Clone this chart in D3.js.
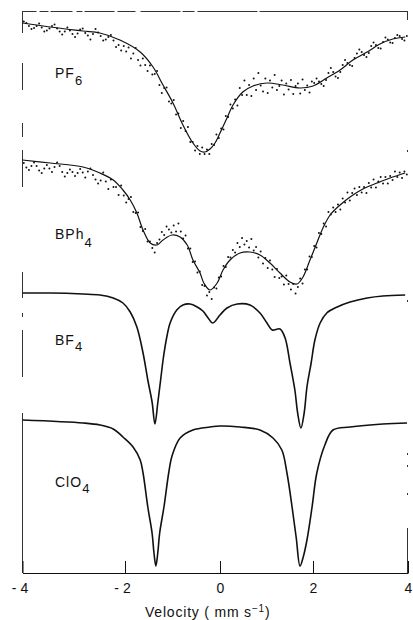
<!DOCTYPE html>
<html>
<head>
<meta charset="utf-8">
<script src="https://cdn.jsdelivr.net/npm/d3@7"></script>
<style>
  html, body { margin: 0; padding: 0; background: #fff; }
  svg { display: block; }
  text { font-family: "Liberation Sans", Arial, sans-serif; fill: #111; }
</style>
</head>
<body>
<svg id="chart" width="413" height="620"></svg>
<script>
// Mössbauer spectra of four salts, stacked with vertical offsets.
// Velocity in mm/s, transmission in arbitrary offset units.

const velocityTicks = [-4, -2, 0, 2, 4];
const saltNames = ["PF", "BPh", "BF", "ClO"];
const saltSubscripts = ["6", "4", "4", "4"];

// Fitted curves: [velocity, transmission]
const pf6Fit = [[-4,110],[-3.46,109.2],[-2.82,108.4],[-2.49,108],[-2.1,106.6],[-1.68,104.2],[-1.41,101.2],[-1.2,97.6],[-0.99,94],[-0.78,89.6],[-0.57,86],[-0.42,84.4],[-0.32,84.2],[-0.21,84.8],[-0.105,86],[0,88],[0.15,91],[0.28,93.6],[0.49,96.2],[0.71,97.4],[1.01,98],[1.35,97.6],[1.72,97],[2,97.4],[2.29,99],[2.57,100.6],[2.84,102.6],[3.14,104.2],[3.41,105.8],[3.68,106.8],[3.94,107.2]];

const bph4Fit = [[-4,82.6],[-3.46,82],[-2.82,81.2],[-2.49,80],[-2.23,78.6],[-2.04,76.6],[-1.89,74.6],[-1.75,72],[-1.62,68.6],[-1.47,66],[-1.33,65.6],[-1.2,66.6],[-1.01,67.6],[-0.84,67.2],[-0.69,65.6],[-0.57,62.6],[-0.42,60],[-0.34,58],[-0.21,56.6],[-0.06,58],[0.065,60.6],[0.215,62.6],[0.43,64],[0.645,64.2],[0.86,63.6],[1.075,62],[1.29,60],[1.505,58.2],[1.656,57.8],[1.785,59.2],[1.935,62.6],[2.08,66],[2.21,69],[2.36,71.6],[2.57,73.6],[2.78,75.2],[3.05,76.8],[3.35,78],[3.62,79],[3.94,80]];

const bf4Fit = [[-4,56],[-3.46,56],[-2.82,55.8],[-2.49,55.6],[-2.23,55],[-2.04,54],[-1.89,52.2],[-1.75,49.2],[-1.62,44],[-1.52,38.6],[-1.43,34.2],[-1.37,29.8],[-1.31,34],[-1.25,38.6],[-1.19,43.2],[-1.12,47.2],[-1.05,50],[-0.91,52.6],[-0.78,53.6],[-0.63,53.8],[-0.48,53.2],[-0.36,52.4],[-0.25,51],[-0.15,50],[0,51.6],[0.15,53],[0.37,53.8],[0.645,53.6],[0.86,52],[1.01,50],[1.12,48.6],[1.29,48.8],[1.4,47],[1.505,42],[1.61,36.6],[1.67,32],[1.74,29],[1.81,32],[1.87,37.2],[1.96,42],[2.04,46.6],[2.15,50],[2.29,52],[2.51,53.2],[2.78,54.2],[3.14,55],[3.47,55.4],[3.94,55.6]];

const clo4Fit = [[-4,30.6],[-2.82,30],[-2.49,29.6],[-2.23,28.8],[-2.04,27.2],[-1.83,25.2],[-1.68,22.6],[-1.62,20],[-1.52,13.2],[-1.43,8],[-1.39,4],[-1.35,1.4],[-1.31,4],[-1.27,8],[-1.18,13.2],[-1.08,20],[-1.01,23.4],[-0.84,27],[-0.57,28.6],[-0.21,29.2],[0,29.4],[0.43,29.2],[0.86,28.6],[1.14,27],[1.33,24.6],[1.44,20],[1.55,13.2],[1.64,7],[1.72,1.4],[1.79,3.2],[1.87,6.6],[1.98,13.2],[2.08,20],[2.25,25.6],[2.42,28.6],[2.78,29.2],[3.47,29.8],[3.98,30]];

// Measured counts on the channel grid (first channel, channel width in mm/s)
const channelStart = -3.975;
const channelWidth = 0.05;

const pf6Counts = [
  110.3,110.0,109.4,108.8,109.0,109.4,109.9,109.1,108.3,108.5,
  108.9,109.4,109.7,108.9,108.3,107.7,108.3,109.1,108.5,107.8,
  107.2,107.9,108.7,108.9,108.0,107.5,106.7,107.8,108.8,108.1,
  107.4,106.5,106.7,107.2,107.6,106.5,105.2,105.6,104.5,105.4,
  104.3,105.1,102.9,103.9,105.0,102.6,101.5,102.9,101.6,100.4,
  101.5,99.7,99.8,100.4,97.6,96.0,97.0,97.1,94.3,93.9,
  94.6,91.7,91.9,89.0,90.4,88.4,89.2,86.2,86.2,84.5,
  85.4,83.8,85.1,83.8,84.7,83.8,85.8,85.6,87.7,87.0,
  88.9,88.7,91.4,91.2,93.7,92.9,94.7,93.5,97.0,95.6,
  98.5,95.6,97.6,95.4,98.9,96.6,100.0,97.5,96.3,98.9,
  96.0,98.5,97.1,99.6,96.6,97.4,98.5,95.7,97.9,96.7,
  98.6,95.8,97.4,97.9,95.9,98.7,96.6,97.5,96.1,98.3,
  98.0,98.9,98.3,97.8,97.4,98.6,100.0,101.0,100.2,99.3,
  99.0,100.2,101.6,102.6,102.0,101.6,101.4,103.0,103.9,104.7,
  104.2,103.6,103.2,104.0,105.4,106.1,105.6,105.0,104.9,106.2,
  107.1,106.7,106.1,106.0,107.0,107.6,107.4,106.8,106.5,107.4
];

const bph4Counts = [
  82.0,81.1,80.6,81.4,82.1,81.4,80.5,80.0,80.9,81.6,
  80.9,80.2,81.2,82.1,81.4,80.2,79.3,80.0,80.7,80.2,
  79.4,80.0,80.8,80.1,79.1,80.3,80.9,79.6,78.7,77.9,
  78.5,80.1,78.3,76.8,78.7,77.2,77.2,75.6,77.5,75.5,
  74.1,74.8,75.2,72.2,72.0,72.1,69.2,68.4,68.8,66.3,
  66.3,65.0,64.1,66.0,66.7,68.2,67.6,69.3,68.7,68.1,
  69.5,68.3,69.9,68.3,66.9,67.5,64.9,64.9,62.2,62.3,
  60.1,60.3,57.6,57.4,55.5,56.2,54.8,57.1,56.9,59.1,
  59.3,61.4,61.2,63.2,63.1,64.6,64.1,66.0,65.2,67.0,
  65.7,66.4,65.1,66.8,64.5,65.2,63.1,64.3,61.9,63.0,
  61.0,62.5,60.7,59.2,60.8,59.0,59.3,57.7,59.5,57.8,
  56.7,57.8,55.9,57.2,58.9,57.9,60.7,60.7,63.3,63.2,
  65.4,65.1,68.0,67.8,69.9,69.3,72.2,71.7,73.1,72.2,
  73.7,72.7,74.9,74.1,76.1,74.5,76.0,76.9,75.6,77.2,
  76.1,77.2,76.0,78.0,77.1,78.7,77.1,78.3,79.2,77.9,
  79.2,77.9,79.4,78.6,80.3,79.2,80.1,79.0,80.3,79.7
];

// ---- drawing ----
const svg = d3.select("#chart");

const x = d3.scaleLinear().domain(velocityTicks).range([22.5, 125, 220, 313, 408]);
const y = d3.scaleLinear().domain([0, 112.4]).range([573, 11]);

const ink = "#111";

// frame (thin, broken as on the original plotter sheet)
const frame = svg.append("g").attr("fill", "none").attr("stroke", "#333").attr("stroke-width", 1);
frame.append("line")
  .attr("x1", x(-4)).attr("x2", x(4)).attr("y1", y(112.4) + 0.5).attr("y2", y(112.4) + 0.5)
  .attr("stroke-dasharray", "14 3 9 2 22 4 6 2 30 3 18 5 40 2 12 3 60 2 150");
frame.append("line")
  .attr("x1", x(-4)).attr("x2", x(-4)).attr("y1", y(112.4)).attr("y2", y(0))
  .attr("stroke-dasharray", "22 30 27 33 14 13 37 85 26 15 4 13 47 36 160");
frame.append("line")
  .attr("x1", x(4) - 0.5).attr("x2", x(4) - 0.5).attr("y1", y(112.4)).attr("y2", y(0))
  .attr("stroke-dasharray", "9 130 2 148 2 151 2 10 2 26 2 33 45");

// velocity axis with inward ticks
const axis = d3.axisBottom(x)
  .tickValues(velocityTicks)
  .tickSizeInner(-12)
  .tickSizeOuter(0)
  .tickPadding(10)
  .tickFormat(d => d < 0 ? "- " + Math.abs(d) : String(d));

const gAxis = svg.append("g")
  .attr("transform", `translate(0,${y(0)})`)
  .call(axis);
gAxis.select(".domain").attr("stroke", ink);
gAxis.selectAll(".tick line").attr("stroke", ink);
gAxis.selectAll(".tick text")
  .attr("font-size", 14)
  .attr("font-family", '"Liberation Sans", Arial, sans-serif')
  .attr("fill", ink)
  .attr("dx", d => d < 0 ? -3 : 0);

// axis title
const title = svg.append("text")
  .attr("x", 145).attr("y", 617)
  .attr("font-size", 14)
  .attr("letter-spacing", 0.8);
title.append("tspan").text("Velocity ( mm s");
title.append("tspan").attr("font-size", 10).attr("dy", -5).text("−1");
title.append("tspan").attr("dy", 5).text(")");

// spectra
const line = d3.line().x(d => x(d[0])).y(d => y(d[1])).curve(d3.curveCatmullRom.alpha(0.5));

const fits = [pf6Fit, bph4Fit, bf4Fit, clo4Fit];
const fitWidths = [1.2, 1.2, 1.6, 1.6];
svg.append("g").selectAll("path")
  .data(fits)
  .join("path")
  .attr("d", line)
  .attr("fill", "none")
  .attr("stroke", ink)
  .attr("stroke-width", (d, i) => fitWidths[i])
  .attr("stroke-linejoin", "round");

// measured points
const channelVelocity = i => channelStart + i * channelWidth;
[pf6Counts, bph4Counts].forEach(counts => {
  svg.append("g").selectAll("circle")
    .data(counts)
    .join("circle")
    .attr("cx", (d, i) => x(channelVelocity(i)))
    .attr("cy", d => y(d))
    .attr("r", 1)
    .attr("fill", ink);
});

// salt labels
const labelY = [78, 239, 345, 487];
const labelSubDy = [7, 8, 6, 6];
saltNames.forEach((name, i) => {
  const t = svg.append("text")
    .attr("x", 55).attr("y", labelY[i])
    .attr("font-size", 14)
    .attr("letter-spacing", 1);
  t.append("tspan").text(name);
  t.append("tspan").attr("font-size", 13).attr("dy", labelSubDy[i]).text(saltSubscripts[i]);
});
</script>
</body>
</html>
